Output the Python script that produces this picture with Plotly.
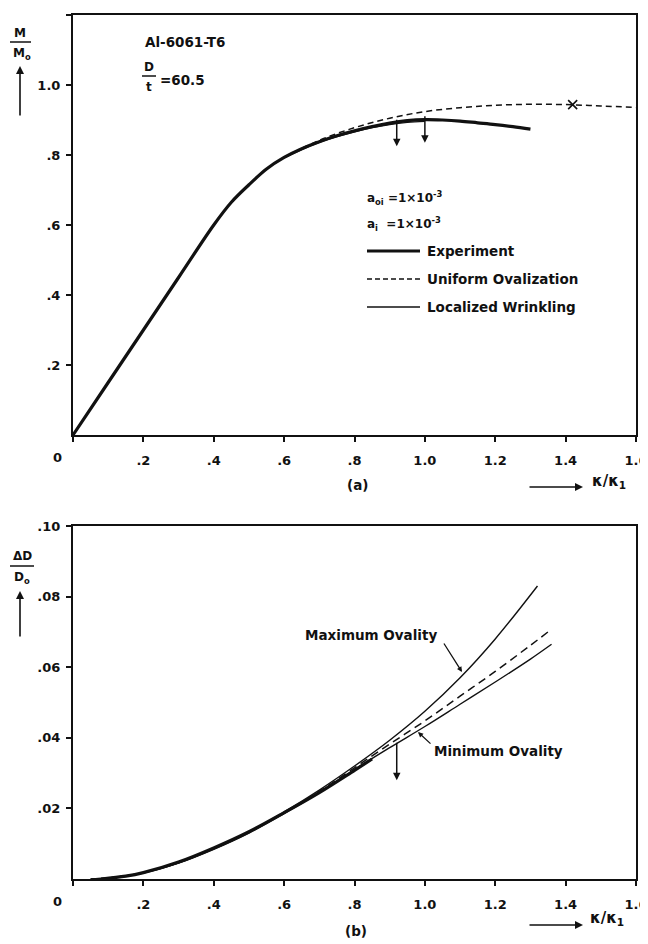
import plotly.graph_objects as go

# ---------------- data ----------------
# (a) moment vs curvature
kappa_exp_a = [0, 0.1, 0.2, 0.3, 0.4, 0.45, 0.5, 0.55, 0.6, 0.65, 0.7, 0.75, 0.8, 0.85,
               0.9, 0.95, 1.0, 1.05, 1.1, 1.15, 1.2, 1.25, 1.3]
moment_exp = [0, 0.15, 0.30, 0.45, 0.60, 0.665, 0.715, 0.76, 0.793, 0.818, 0.838, 0.855,
              0.869, 0.881, 0.891, 0.898, 0.901, 0.900, 0.897, 0.892, 0.887, 0.881, 0.874]

kappa_uni_a = [0.6, 0.7, 0.8, 0.9, 1.0, 1.1, 1.2, 1.3, 1.4, 1.5, 1.6]
moment_uni = [0.794, 0.842, 0.878, 0.905, 0.924, 0.935, 0.942, 0.945, 0.944, 0.940, 0.936]

kappa_loc_a = [0.6, 0.7, 0.8, 0.85, 0.9, 0.95, 1.0]
moment_loc = [0.792, 0.836, 0.866, 0.878, 0.887, 0.893, 0.896]

kappa_cross = [1.42]
moment_cross = [0.944]

# (b) ovality vs curvature
kappa_exp_b = [0.08, 0.15, 0.2, 0.3, 0.4, 0.5, 0.6, 0.7, 0.8, 0.85]
oval_exp = [0.0, 0.0008, 0.0018, 0.0048, 0.0088, 0.0134, 0.0188, 0.0245, 0.0308, 0.034]

kappa_max_b = [0.05, 0.1, 0.2, 0.3, 0.4, 0.5, 0.6, 0.7, 0.8, 0.9, 1.0, 1.1, 1.2, 1.32]
oval_max = [0.0, 0.0003, 0.0018, 0.0046, 0.0086, 0.0133, 0.019, 0.0252, 0.032, 0.0393,
            0.0475, 0.057, 0.068, 0.083]

kappa_min_b = [0.05, 0.1, 0.2, 0.3, 0.4, 0.5, 0.6, 0.7, 0.8, 0.9, 1.0, 1.1, 1.2, 1.3, 1.36]
oval_min = [0.0, 0.0003, 0.0017, 0.0045, 0.0084, 0.013, 0.0185, 0.0245, 0.031, 0.0372,
            0.0432, 0.0495, 0.0558, 0.0623, 0.0665]

kappa_uni_b = [0.6, 0.7, 0.8, 0.9, 1.0, 1.1, 1.2, 1.3, 1.35]
oval_uni = [0.0187, 0.0248, 0.0315, 0.0382, 0.0448, 0.0518, 0.0588, 0.0662, 0.0700]

xticks = [0, 0.2, 0.4, 0.6, 0.8, 1.0, 1.2, 1.4, 1.6]
xtick_text = ["", ".2", ".4", ".6", ".8", "1.0", "1.2", "1.4", "1.6"]
ytick_a = [0.2, 0.4, 0.6, 0.8, 1.0, 1.2]
ytick_a_text = [".2", ".4", ".6", ".8", "1.0", "1.2"]
ytick_b = [0.02, 0.04, 0.06, 0.08, 0.10]
ytick_b_text = [".02", ".04", ".06", ".08", ".10"]

# ---------------- layout helpers ----------------
# The page body adds an 8px offset; positions below are given in screen pixels.
OFF = 8
W, H = 640, 936
SCR_L, SCR_R, SCR_T, SCR_B = 73, 636, 15, 879
L, T = SCR_L - OFF, SCR_T - OFF
R = W - (SCR_R - OFF)
B = H - (SCR_B - OFF)
PW, PH = W - L - R, H - T - B
TOP_AXIS_PX = 435
BOT_TOP_PX = 526


def px(x):
    return (x - OFF - L) / PW


def py(y):
    return (H - B - (y - OFF)) / PH


FONT = "DejaVu Sans"
BLACK = "#111111"

fig = go.Figure()

# (a)
fig.add_trace(go.Scatter(x=kappa_exp_a, y=moment_exp, mode="lines",
                         line=dict(color=BLACK, width=3.2, shape="spline"),
                         xaxis="x", yaxis="y", showlegend=False))
fig.add_trace(go.Scatter(x=kappa_uni_a, y=moment_uni, mode="lines",
                         line=dict(color=BLACK, width=1.5, dash="6px,4px", shape="spline"),
                         xaxis="x", yaxis="y", showlegend=False))
fig.add_trace(go.Scatter(x=kappa_loc_a, y=moment_loc, mode="lines",
                         line=dict(color=BLACK, width=1.3, shape="spline"),
                         xaxis="x", yaxis="y", showlegend=False))
fig.add_trace(go.Scatter(x=kappa_cross, y=moment_cross, mode="markers",
                         marker=dict(symbol="x-thin", size=9, line=dict(color=BLACK, width=1.6)),
                         xaxis="x", yaxis="y", showlegend=False))

# (b)
fig.add_trace(go.Scatter(x=kappa_exp_b, y=oval_exp, mode="lines",
                         line=dict(color=BLACK, width=3.2, shape="spline"),
                         xaxis="x2", yaxis="y2", showlegend=False))
fig.add_trace(go.Scatter(x=kappa_max_b, y=oval_max, mode="lines",
                         line=dict(color=BLACK, width=1.4, shape="spline"),
                         xaxis="x2", yaxis="y2", showlegend=False))
fig.add_trace(go.Scatter(x=kappa_min_b, y=oval_min, mode="lines",
                         line=dict(color=BLACK, width=1.4, shape="spline"),
                         xaxis="x2", yaxis="y2", showlegend=False))
fig.add_trace(go.Scatter(x=kappa_uni_b, y=oval_uni, mode="lines",
                         line=dict(color=BLACK, width=1.5, dash="8px,5px", shape="spline"),
                         xaxis="x2", yaxis="y2", showlegend=False))

top_dom = [py(TOP_AXIS_PX), 1.0]
bot_dom = [0.0, py(BOT_TOP_PX)]

tickfont = dict(family=FONT, size=13, color=BLACK, weight="bold")
axis_common = dict(showgrid=False, zeroline=False, showline=True, linecolor=BLACK,
                   linewidth=2, mirror=True, ticks="outside", ticklen=5, tickwidth=2,
                   tickcolor=BLACK, automargin=False, tickfont=tickfont)

fig.update_layout(
    width=W, height=H,
    margin=dict(l=L, r=R, t=T, b=B, pad=0, autoexpand=False),
    paper_bgcolor="white", plot_bgcolor="white",
    showlegend=False,
    xaxis=dict(domain=[0, 1], range=[0, 1.6], anchor="y", tickvals=xticks,
               ticktext=xtick_text, ticklabelstandoff=7, **axis_common),
    yaxis=dict(domain=top_dom, range=[0, 1.2], anchor="x", tickvals=ytick_a,
               ticktext=ytick_a_text, ticklabelstandoff=3, **axis_common),
    xaxis2=dict(domain=[0, 1], range=[0, 1.6], anchor="y2", tickvals=xticks,
                ticktext=xtick_text, ticklabelstandoff=7, **axis_common),
    yaxis2=dict(domain=bot_dom, range=[0, 0.10], anchor="x2", tickvals=ytick_b,
                ticktext=ytick_b_text, ticklabelstandoff=3, **axis_common),
)

tf = dict(family=FONT, size=13, color=BLACK, weight="bold")
sf = dict(family=FONT, size=13.5, color=BLACK, weight="bold")
lf = dict(family=FONT, size=12, color=BLACK, weight="bold")
kf = dict(family=FONT, size=15, color=BLACK, weight="bold")
ann = []
shapes = []


def text(x, y, s, font=tf, xanchor="center", yanchor="middle"):
    ann.append(dict(x=px(x), y=py(y), xref="paper", yref="paper", text=s, showarrow=False,
                    font=font, xanchor=xanchor, yanchor=yanchor))


def arrow(x0, y0, x1, y1, width=1.6, head=2, size=1.0):
    # arrow from screen pixel (x0,y0) tail to screen pixel (x1,y1) head
    ann.append(dict(x=px(x1), y=py(y1), xref="paper", yref="paper", ax=x0 - x1, ay=y0 - y1,
                    axref="pixel", ayref="pixel", text="", showarrow=True, arrowhead=head,
                    arrowsize=size, arrowwidth=width, arrowcolor=BLACK))


def hline(x0, x1, y, width=1.5, dash="solid"):
    shapes.append(dict(type="line", xref="paper", yref="paper", x0=px(x0), x1=px(x1),
                       y0=py(y), y1=py(y), line=dict(color=BLACK, width=width, dash=dash)))


def data_arrow(xa, ya, x0, y0, x1, y1):
    ann.append(dict(x=x1, y=y1, xref=xa, yref=ya, ax=x0, ay=y0, axref=xa, ayref=ya,
                    text="", showarrow=True, arrowhead=2, arrowsize=1.0, arrowwidth=1.5,
                    arrowcolor=BLACK))


# x "0" labels at the corners
text(57, 457, "0")
text(57, 901, "0")

# ---- (a) annotations ----
text(20, 33, "M", font=lf)
hline(10, 31, 42, width=1.5)
text(22, 54, "M<sub>o</sub>", font=lf)
arrow(20, 117, 20, 66, width=1.6)

text(143, 42, "Al-6061-T6", font=sf, xanchor="left")
text(149, 67, "D", font=lf)
hline(142, 156, 76, width=1.5)
text(149, 87, "t", font=lf)
text(158, 80, "=60.5", font=sf, xanchor="left")

text(365, 198, "a<sub>oi</sub> =1×10<sup>-3</sup>", font=lf, xanchor="left")
text(365, 224, "a<sub>i</sub>  =1×10<sup>-3</sup>", font=lf, xanchor="left")
hline(367, 420, 251, width=3)
text(425, 251, "Experiment", font=sf, xanchor="left")
hline(367, 420, 279, width=1.5, dash="5px,3px")
text(425, 279, "Uniform Ovalization", font=sf, xanchor="left")
hline(367, 420, 307, width=1.5)
text(425, 307, "Localized Wrinkling", font=sf, xanchor="left")

data_arrow("x", "y", 0.92, 0.905, 0.92, 0.825)
data_arrow("x", "y", 1.0, 0.915, 1.0, 0.835)

text(357, 485, "(a)", font=sf)
arrow(528, 487, 583, 487, width=1.6)
text(609, 481, "κ/κ<sub>1</sub>", font=kf)

# ---- (b) annotations ----
text(22, 556, "ΔD", font=lf)
hline(10, 34, 566, width=1.5)
text(22, 578, "D<sub>o</sub>", font=lf)
arrow(20, 638, 20, 591, width=1.6)

text(371, 635, "Maximum Ovality", font=sf)
arrow(443, 642, 462, 672, width=1.3, size=0.8)
text(432, 751, "Minimum Ovality", font=sf, xanchor="left")
arrow(432, 745, 418, 732, width=1.3, size=0.8)

data_arrow("x2", "y2", 0.92, 0.039, 0.92, 0.028)

text(356, 931, "(b)", font=sf)
arrow(528, 925, 583, 925, width=1.6)
text(607, 918, "κ/κ<sub>1</sub>", font=kf)

fig.update_layout(annotations=ann, shapes=shapes)

fig.write_html("out.html")
